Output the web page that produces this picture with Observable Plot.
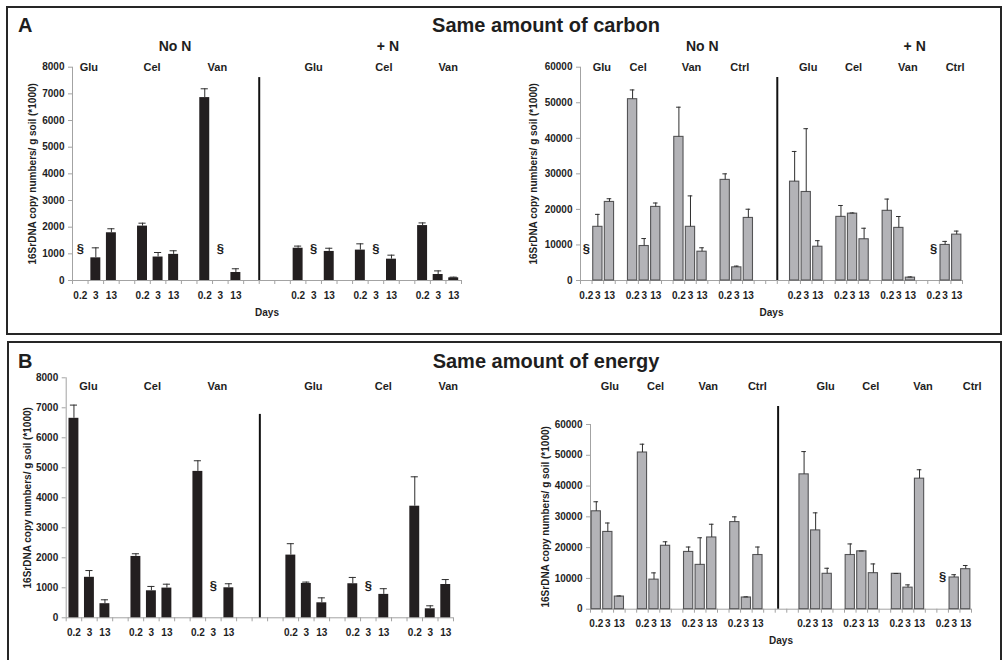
<!DOCTYPE html>
<html>
<head>
<meta charset="utf-8">
<script src="https://cdn.jsdelivr.net/npm/d3@7"></script>
<script src="https://cdn.jsdelivr.net/npm/@observablehq/plot@0.6"></script>
<style>
  html, body { margin: 0; padding: 0; background: #fff; }
  #fig { position: relative; width: 1004px; height: 660px; overflow: hidden;
         font-family: "Liberation Sans", Arial, sans-serif; color: #1e1e1e; }
  .box { position: absolute; border: 2px solid #262626; box-sizing: border-box; }
  .lbl { position: absolute; font-weight: bold; white-space: nowrap; line-height: 1; }
  .chart { position: absolute; }
</style>
</head>
<body>
<div id="fig">
  <div class="box" style="left:6px;top:6px;width:996px;height:329px"></div>
  <div class="box" style="left:7px;top:341px;width:995px;height:340px"></div>
  <div class="lbl" style="left:18px;top:15px;font-size:20px">A</div>
  <div class="lbl" style="left:546px;top:15px;font-size:20px;transform:translateX(-50%)">Same amount of carbon</div>
  <div class="lbl" style="left:18px;top:351px;font-size:20px">B</div>
  <div class="lbl" style="left:546px;top:351px;font-size:20px;transform:translateX(-50%)">Same amount of energy</div>
</div>
<script>
// Sampling days and treatment labels
const days = ["0.2", "3", "13"];
const nLevels = ["No N", "+ N"];
const substrates3 = ["Glu", "Cel", "Van"];
const substrates4 = ["Glu", "Cel", "Van", "Ctrl"];
const yTitle = "16SrDNA copy numbers/ g soil (*1000)";

// 16S rDNA copies (x1000 per g soil), substrate by substrate, days 0.2 / 3 / 13.
// null = not quantified (marked with §). *Err = upper standard error.

// A: same amount of carbon, Glu/Cel/Van
const carbonSmallNoN    = [null, 850, 1790,   2040, 880, 980,    6860, null, 300];
const carbonSmallNoNErr = [null, 375, 150,    110, 170, 135,     330, null, 140];
const carbonSmallN      = [1210, null, 1090,  1140, null, 800,   2060, 225, 100];
const carbonSmallNErr   = [80, null, 120,     235, null, 150,    100, 135, 25];

// A: same amount of carbon, Glu/Cel/Van/Ctrl
const carbonLargeNoN    = [null, 15100, 22100,  51000, 9700, 20700,  40400, 15100, 8100,  28300, 3700, 17600];
const carbonLargeNoNErr = [null, 3500, 900,     2600, 2100, 1100,    8350, 8700, 1100,    1700, 350, 2450];
const carbonLargeN      = [27800, 24900, 9500,  17900, 18800, 11600, 19600, 14800, 800,   null, 10000, 12900];
const carbonLargeNErr   = [8500, 17800, 1700,   3200, 200, 3100,     3300, 3200, 200,     null, 1000, 1000];

// B: same amount of energy, Glu/Cel/Van
const energySmallNoN    = [6650, 1350, 470,   2045, 900, 990,    4880, null, 1000];
const energySmallNoNErr = [440, 225, 130,     90, 145, 130,      355, null, 135];
const energySmallN      = [2090, 1145, 500,   1135, null, 780,   3720, 300, 1110];
const energySmallNErr   = [380, 45, 165,      210, null, 190,    980, 100, 165];

// B: same amount of energy, Glu/Cel/Van/Ctrl
const energyLargeNoN    = [31800, 25100, 4100,  50900, 9600, 20600,  18600, 14400, 23300, 28300, 3800, 17600];
const energyLargeNoNErr = [3100, 2900, 200,     2700, 2200, 1300,    1600, 8800, 4300,    1700, 200, 2600];
const energyLargeN      = [43800, 25600, 11500, 17600, 18800, 11700, 11500, 7000, 42400,  null, 10300, 13000];
const energyLargeNErr   = [7400, 5700, 1800,    3600, 100, 3000,     100, 900, 2900,      null, 900, 1200];

// Lay the bars out on a slot axis: 3 days per substrate, one empty slot between
// substrates and three empty slots between the nitrogen treatments.
function buildRows(subs, series) {
  const rows = [], groups = [], heads = [];
  const perLevel = subs.length * 4 - 1;
  series.forEach(([mean, err], k) => {
    const start = k * (perLevel + 3);
    heads.push({label: nLevels[k], center: start + (perLevel - 1) / 2});
    subs.forEach((s, g) => {
      groups.push({label: s, center: start + g * 4 + 1});
      days.forEach((d, j) => {
        const i = g * 3 + j;
        rows.push({n: nLevels[k], sub: s, day: d, slot: start + g * 4 + j, mean: mean[i], err: err[i]});
      });
    });
  });
  return {rows, groups, heads, nSlots: perLevel * 2 + 3};
}

function chart(c) {
  const {rows, groups, heads, nSlots} = buildRows(c.subs, c.series);
  const slotW = (c.width - c.ml - c.mr) / nSlots;
  const present = rows.filter(d => d.mean != null);
  const missing = rows.filter(d => d.mean == null);
  const bounds = d3.range(nSlots + 1).map(i => i - 0.5);
  const axisGrey = "#a3a3a3";
  const ink = "#1e1e1e";
  const txt = {fontWeight: "bold", fill: ink, textAnchor: "middle", lineAnchor: "middle"};
  const marks = [
    Plot.ruleX([-0.5], {stroke: axisGrey}),
    Plot.axisY({ticks: d3.range(0, c.yMax + 1, c.yStep), tickSize: 4, tickPadding: 4,
                tickFormat: d3.format("d"), stroke: axisGrey, fill: ink, fontSize: 10,
                fontWeight: "bold", label: null}),
    Plot.axisX({ticks: bounds, tickSize: 4, tickFormat: () => "", stroke: axisGrey, label: null}),
    Plot.ruleY([0], {stroke: axisGrey}),
    Plot.rect(present, {x1: d => d.slot - c.bw / 2, x2: d => d.slot + c.bw / 2, y1: 0, y2: "mean",
                        fill: c.fill, stroke: c.stroke, strokeWidth: c.stroke === "none" ? 0 : 1.1}),
    Plot.ruleX(present, {x: "slot", y1: "mean", y2: d => d.mean + d.err, stroke: "#2e2e2e", strokeWidth: 1}),
    Plot.ruleY(present, {y: d => d.mean + d.err, x1: d => d.slot - c.cap, x2: d => d.slot + c.cap,
                         stroke: "#2e2e2e", strokeWidth: 1}),
    Plot.text(missing, {...txt, x: "slot", text: () => "§", frameAnchor: "bottom", dy: -32, fontSize: 13}),
    Plot.text(rows, {...txt, x: "slot", text: "day", frameAnchor: "bottom", dy: 15, fontSize: 10}),
    Plot.text(groups, {...txt, x: (d, i) => d.center + c.groupDx[i] / slotW, text: "label",
                       frameAnchor: "top", dy: c.groupDy, fontSize: 11}),
    Plot.ruleX([c.sep], {y1: 0, y2: c.sepTop, stroke: "#111", strokeWidth: 2}),
    Plot.text([yTitle], {...txt, frameAnchor: "left", rotate: -90, dx: c.titleDx, fontSize: 10})
  ];
  if (c.heads) {
    marks.push(Plot.text(heads, {...txt, x: (d, i) => d.center + c.headDx[i] / slotW, text: "label",
                                 frameAnchor: "top", dy: c.headDy, fontSize: 14}));
  }
  if (c.days) {
    marks.push(Plot.text(["Days"], {...txt, frameAnchor: "bottom", dy: 32, fontSize: 10}));
  }
  const svg = Plot.plot({
    width: c.width, height: c.height,
    marginLeft: c.ml, marginRight: c.mr, marginTop: c.mt, marginBottom: c.mb,
    x: {type: "linear", domain: [-0.5, nSlots - 0.5], label: null},
    y: {type: "linear", domain: [0, c.yMax], label: null},
    style: {background: "transparent", fontFamily: "'Liberation Sans', Arial, sans-serif", overflow: "visible"},
    marks
  });
  svg.classList.add("chart");
  svg.style.left = c.left + "px";
  svg.style.top = c.top + "px";
  svg.style.maxWidth = "none";
  document.getElementById("fig").appendChild(svg);
}

const blackBars = {fill: "#231f20", stroke: "none", bw: 0.64, cap: 0.23};
const greyBars = {fill: "#b3b3b7", stroke: "#545456", bw: 0.8, cap: 0.2};

chart({...blackBars, subs: substrates3,
  series: [[carbonSmallNoN, carbonSmallNoNErr], [carbonSmallN, carbonSmallNErr]],
  left: 0, top: 30, width: 480, height: 300, ml: 72, mr: 19, mt: 36.7, mb: 50,
  yMax: 8000, yStep: 1000, sep: 11.5, sepTop: 7610, titleDx: -40,
  groupDx: [-7, -6, -3, 0, 8, 10], groupDy: 0,
  heads: true, headDx: [17, 12], headDy: -21, days: true});

chart({...greyBars, subs: substrates4,
  series: [[carbonLargeNoN, carbonLargeNoNErr], [carbonLargeN, carbonLargeNErr]],
  left: 480, top: 30, width: 520, height: 300, ml: 100, mr: 38, mt: 36.7, mb: 50,
  yMax: 60000, yStep: 10000, sep: 16.5, sepTop: 57100, titleDx: -47,
  groupDx: [4, -6, 1, 3, 2, 1, 9, 10], groupDy: 0,
  heads: true, headDx: [35, 39], headDy: -21, days: true});

chart({...blackBars, subs: substrates3,
  series: [[energySmallNoN, energySmallNoNErr], [energySmallN, energySmallNErr]],
  left: 0, top: 370, width: 480, height: 290, ml: 65.7, mr: 27, mt: 7.3, mb: 42.7,
  yMax: 8000, yStep: 1000, sep: 12, sepTop: 6780, titleDx: -38,
  groupDx: [-1, 1, 4, 7, 15, 18], groupDy: 8.4,
  heads: false, days: false});

chart({...greyBars, subs: substrates4,
  series: [[energyLargeNoN, energyLargeNoNErr], [energyLargeN, energyLargeNErr]],
  left: 480, top: 370, width: 520, height: 290, ml: 110, mr: 29, mt: 54, mb: 51.3,
  yMax: 60000, yStep: 10000, sep: 15.75, sepTop: 65850, titleDx: -45,
  groupDx: [2, 1.5, 8, 11, 10, 9, 15, 18], groupDy: -38.3,
  heads: false, days: true});
</script>
</body>
</html>
